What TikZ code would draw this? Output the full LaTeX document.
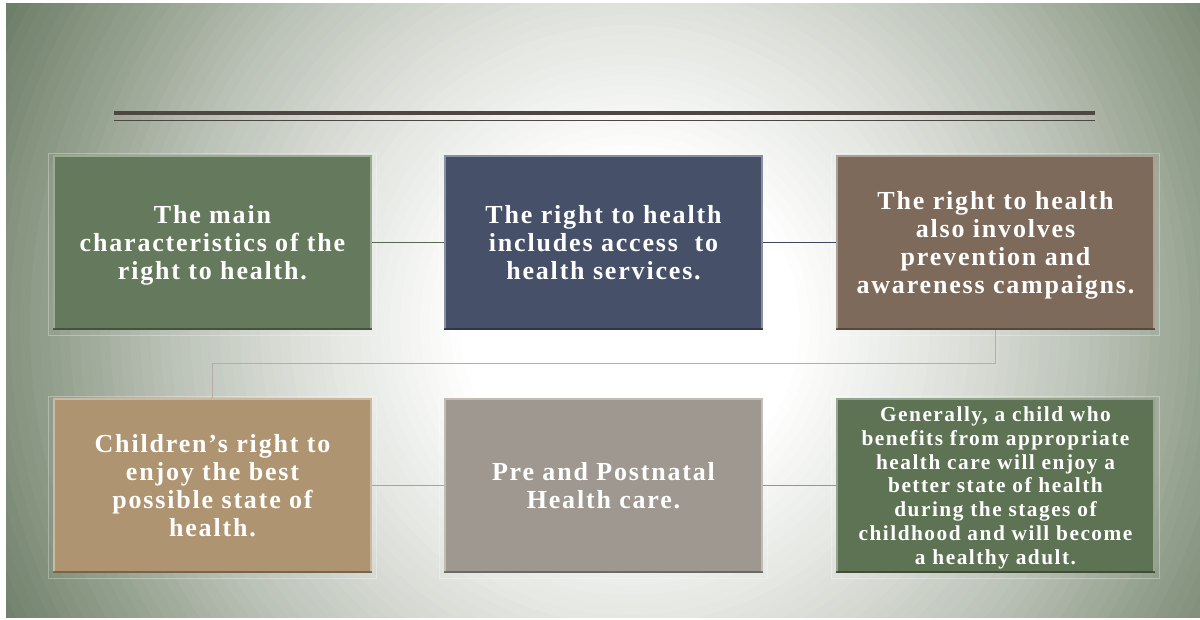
\documentclass[tikz,border=0pt]{standalone}
\usepackage{fontspec}
\setmainfont{Liberation Serif}
\newfontfamily\boxfont[LetterSpace=7]{Liberation Serif}
\usetikzlibrary{calc}
\definecolor{gA}{HTML}{DEE1DB}
\definecolor{gB}{HTML}{BCC3B8}
\definecolor{gC}{HTML}{96A290}
\definecolor{gD}{HTML}{6E7F69}
\definecolor{rulec}{HTML}{504641}
\definecolor{cA}{HTML}{657A5C}
\definecolor{cB}{HTML}{465068}
\definecolor{cC}{HTML}{7E6A5A}
\definecolor{cD}{HTML}{AE9470}
\definecolor{cE}{HTML}{9E9890}
\definecolor{cF}{HTML}{5E7254}
\definecolor{lnA}{HTML}{566A50}
\definecolor{lnB}{HTML}{3E4A5B}
\definecolor{lnC}{HTML}{ABA197}
\definecolor{lnD}{HTML}{9A948E}
\definecolor{lnE}{HTML}{B5AEA6}
\newcommand{\bevelbox}[2]{%
  \draw[white, opacity=.3, line width=.6pt] ([shift={(-3pt,1pt)}]#1.north west) rectangle ([shift={(3pt,-4pt)}]#1.south east);
  \draw[#2!55!white, line width=1.4pt, opacity=.8] ([shift={(0.7pt,0.7pt)}]#1.south west) -- ([shift={(0.7pt,-0.7pt)}]#1.north west) -- ([shift={(-0.7pt,-0.7pt)}]#1.north east) -- ([shift={(-0.7pt,0.7pt)}]#1.south east);
  \draw[#2!55!black, line width=1.8pt, opacity=.7] ([yshift=0.9pt]#1.south west) -- ([yshift=0.9pt]#1.south east);
}
\begin{document}
\begin{tikzpicture}[x=0.75pt,y=-0.75pt,
  box/.style={rectangle, minimum width=239.25pt, minimum height=131.25pt, inner sep=0pt,
    text depth=0pt, text=white, align=center, font=\boxfont\bfseries\fontsize{19.5}{21}\selectfont},
  smallbox/.style={box, font=\boxfont\bfseries\fontsize{16}{17.85}\selectfont},
  conn/.style={line width=0.8pt}]
\useasboundingbox (0,0) rectangle (1200,619);
\fill[white] (0,0) rectangle (1200,619);
% slide background: radial gradient drawn as concentric discs
\coordinate (gc) at (630,325);
\begin{scope}
  \clip (6,3) rectangle (1200,617);
  \fill[gD] (6,3) rectangle (1200,617);
  \foreach \r in {720,710,...,580}{
    \pgfmathsetmacro\p{max(0,min(100,(700-\r)/1.23))}
    \fill[gC!\p!gD] (gc) circle [radius=\r];
  }
  \foreach \r in {570,560,...,460}{
    \pgfmathsetmacro\p{(577-\r)/1.17}
    \fill[gB!\p!gC] (gc) circle [radius=\r];
  }
  \foreach \r in {450,440,...,330}{
    \pgfmathsetmacro\p{(460-\r)/1.30}
    \fill[gA!\p!gB] (gc) circle [radius=\r];
  }
  \foreach \r in {320,310,...,170}{
    \pgfmathsetmacro\p{(330-\r)/1.60}
    \fill[white!\p!gA] (gc) circle [radius=\r];
  }
\end{scope}
% title rule
\draw[rulec, line width=3pt] (114,113) -- (1095,113);
\draw[rulec, line width=1pt] (114,120.5) -- (1095,120.5);
% boxes
\node[box, fill=cA] (b1) at (212.5,242.5) {The main\\characteristics of the\\right to health.};
\node[box, fill=cB] (b2) at (603.5,242.5) {The right to health\\includes access~ to\\health services.};
\node[box, fill=cC] (b3) at (995.5,242.5) {The right to health\\also involves\\prevention and\\awareness campaigns.};
\node[box, fill=cD] (b4) at (212.5,485.5) {Children’s right to\\enjoy the best\\possible state of\\health.};
\node[box, fill=cE] (b5) at (603.5,485.5) {Pre and Postnatal\\Health care.};
\node[smallbox, fill=cF] (b6) at (995.5,485.5) {Generally, a child who\\benefits from appropriate\\health care will enjoy a\\better state of health\\during the stages of\\childhood and will become\\a healthy adult.};
\bevelbox{b1}{cA}
\bevelbox{b2}{cB}
\bevelbox{b3}{cC}
\bevelbox{b4}{cD}
\bevelbox{b5}{cE}
\bevelbox{b6}{cF}
% connectors
\draw[conn, lnA] (b1.east) -- (b2.west);
\draw[conn, lnB] (b2.east) -- (b3.west);
\draw[conn, lnC] (b4.east) -- (b5.west);
\draw[conn, lnD] (b5.east) -- (b6.west);
\draw[conn, lnE] (b3.south) -- ++(0,33) -| (b4.north);
\end{tikzpicture}
\end{document}
